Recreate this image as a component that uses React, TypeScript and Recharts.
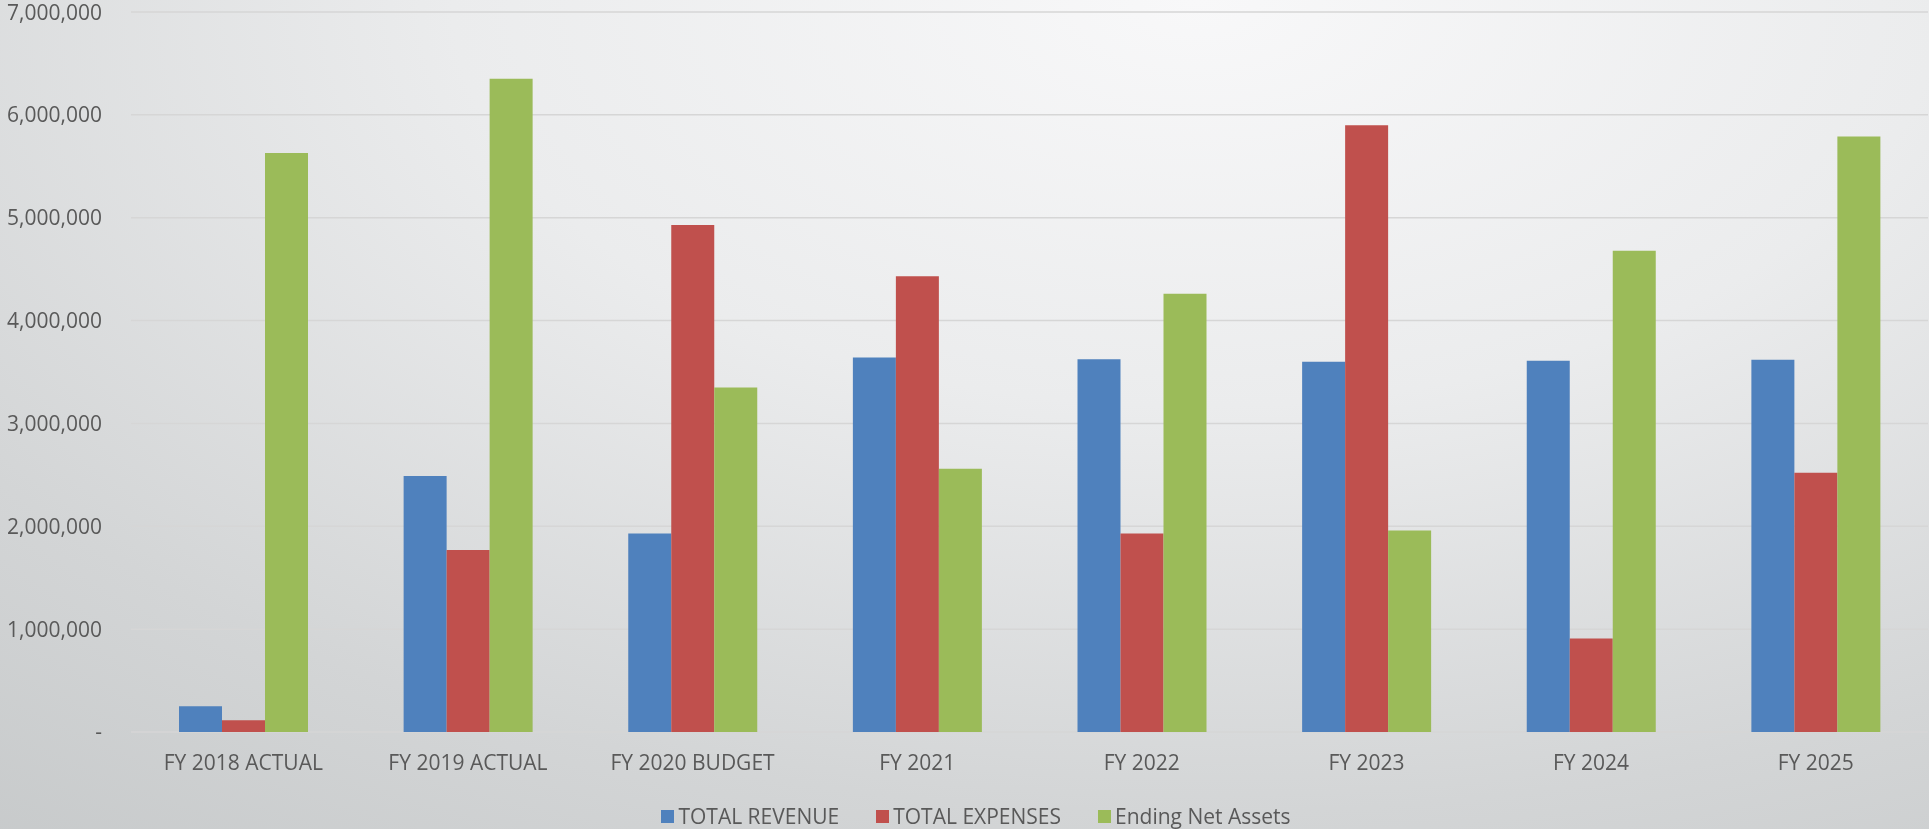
import React from 'react';
import { BarChart, Bar, XAxis, YAxis, CartesianGrid, Legend } from 'recharts';

const categories = ['FY 2018 ACTUAL', 'FY 2019 ACTUAL', 'FY 2020 BUDGET', 'FY 2021', 'FY 2022', 'FY 2023', 'FY 2024', 'FY 2025'];
const totalRevenue = [250000, 2490000, 1930000, 3640000, 3625000, 3600000, 3610000, 3620000];
const totalExpenses = [115000, 1770000, 4930000, 4430000, 1930000, 5900000, 910000, 2520000];
const endingNetAssets = [5630000, 6350000, 3350000, 2560000, 4260000, 1960000, 4680000, 5790000];
const yTicks = [0, 1000000, 2000000, 3000000, 4000000, 5000000, 6000000, 7000000];

const seriesNames = ['TOTAL REVENUE', 'TOTAL EXPENSES', 'Ending Net Assets'];
const seriesColors = ['#4F81BD', '#C0504D', '#9BBB59'];

const data = categories.map((c, i) => ({
  name: c,
  revenue: totalRevenue[i],
  expenses: totalExpenses[i],
  assets: endingNetAssets[i],
}));

const FONT = '"Open Sans", sans-serif';
const TEXT = '#595959';

const fmt = (v: number) => (v === 0 ? '-' : v.toLocaleString('en-US'));

const LegendContent = () => (
  <div
    style={{
      height: 40,
      boxSizing: 'border-box',
      paddingTop: 14,
      paddingLeft: 24,
      display: 'flex',
      justifyContent: 'center',
      alignItems: 'center',
      fontFamily: FONT,
      fontSize: 21,
      color: TEXT,
      lineHeight: '26px',
    }}
  >
    {seriesNames.map((n, i) => (
      <div key={n} style={{ display: 'flex', alignItems: 'center', marginRight: i < 2 ? 37 : 0 }}>
        <div style={{ width: 13, height: 13, background: seriesColors[i], marginRight: 4 }} />
        <span>{n}</span>
      </div>
    ))}
  </div>
);

export default function App() {
  return (
    <div
      style={{
        position: 'fixed',
        left: 0,
        top: 0,
        width: 1929,
        height: 829,
        background:
          'radial-gradient(ellipse 110% 140% at 62% 0%, #f8f8f9 0%, #ebeced 35%, #d3d5d6 70%, #c3c6c7 100%)',
      }}
    >
      <BarChart
        width={1929}
        height={829}
        data={data}
        margin={{ top: 12, right: 1, left: 0, bottom: 0 }}
        barGap={0}
        barSize={43}
      >
        <CartesianGrid vertical={false} stroke="#d6d6d6" strokeWidth={1.5} />
        <XAxis
          dataKey="name"
          height={57}
          axisLine={false}
          tickLine={false}
          tickSize={0}
          tickMargin={23}
          tick={{ fill: TEXT, fontSize: 21, fontFamily: FONT }}
          interval={0}
        />
        <YAxis
          width={131}
          domain={[0, 7000000]}
          ticks={yTicks}
          tickFormatter={fmt}
          axisLine={false}
          tickLine={false}
          tickSize={0}
          tickMargin={29}
          tick={{ fill: TEXT, fontSize: 21, fontFamily: FONT }}
        />
        <Legend verticalAlign="bottom" align="center" content={<LegendContent />} />
        <Bar dataKey="revenue" name={seriesNames[0]} fill={seriesColors[0]} isAnimationActive={false} />
        <Bar dataKey="expenses" name={seriesNames[1]} fill={seriesColors[1]} isAnimationActive={false} />
        <Bar dataKey="assets" name={seriesNames[2]} fill={seriesColors[2]} isAnimationActive={false} />
      </BarChart>
    </div>
  );
}
